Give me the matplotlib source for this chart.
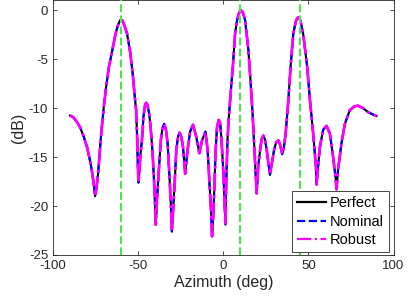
import matplotlib
matplotlib.use('Agg')
from matplotlib import pyplot as plt

# Beam pattern (azimuth in deg, response in dB)
azimuth = [-90, -88, -86, -84, -82, -80, -78, -77, -76, -75.3,
           -74.5, -73.5, -72.5, -71.5, -70.2, -68.8, -67.2, -65.2, -63.3, -62,
           -61, -60.5, -60, -59.5, -59, -58, -56.5, -54.6, -53.2, -52.0, -51.2, -50.6,
           -50.2, -49.8, -49.3, -48.7, -47.8, -46.9, -46, -45.3, -44.5, -43.6,
           -42.9, -42.1, -41.4, -40.4, -39.7, -39.0, -38.0, -36.7, -35.7, -34.7,
           -33.7, -32.7, -31.6, -30.8, -30.2, -29.5, -28.8, -27.6, -26.6, -25.7,
           -24.7, -23.7, -22.4, -21.0, -19.5, -17.8, -15.9, -14.1, -12.5, -10.5,
           -9.2, -8.1, -7.2, -6.6, -5.9, -5.3, -4.5, -3.7, -2.7, -1.8,
           -1.2, -0.3, 0.3, 0.8, 1.25, 1.7, 2.45, 3.2, 4.0, 4.8,
           5.6, 6.9, 8.0, 8.9, 9.7, 10.4, 11.1, 11.8, 12.8, 14.75, 16.1, 17.3,
           18.3, 19.0, 19.6, 20.5, 21.6, 22.5, 23.5, 24.5, 25.5, 27.4,
           29.8, 31.0, 32.3, 33.5, 34.6, 35.6, 36.6, 38.2, 39.5, 41.1,
           42.5, 43.3, 44.0, 44.8, 45.5, 46.9, 49.3, 50.9, 52.8, 54.4, 54.8, 55.5,
           56.7, 58.65, 60.6, 62.6, 64.5, 65.9, 66.5, 67.4, 69.4, 71.4,
           74.3, 77.2, 79.1, 82.1, 85.0, 87.9, 90]
perfect_db = [-10.75, -10.95, -11.4, -12.0, -12.9, -14.0, -15.6, -16.6, -17.9, -19.0,
              -18.2, -16.6, -14.3, -12.2, -9.9, -7.8, -5.8, -4.1, -2.4, -1.6,
              -1.15, -1.0, -0.95, -1.0, -1.15, -1.6, -2.4, -4.4, -6.5, -8.8, -10.2, -13.0,
              -15.8, -17.6, -16.5, -14.8, -13.3, -10.9, -9.7, -9.45, -9.7, -10.5,
              -11.6, -13.2, -15.0, -18.4, -21.9, -19.5, -16.7, -13.3, -12.0, -11.6,
              -12.2, -13.6, -17.0, -19.8, -22.6, -20.5, -18.4, -14.3, -12.9, -12.5,
              -12.9, -13.9, -16.7, -14.3, -12.4, -11.7, -12.9, -14.6, -13.3, -12.4,
              -14.3, -17.7, -20.5, -23.1, -21.0, -18.4, -14.3, -12.0, -11.2, -11.6,
              -12.9, -15.5, -17.6, -19.8, -21.9, -17.7, -13.3, -11.0, -9.2, -7.4,
              -5.8, -2.4, -1.1, -0.45, -0.1, 0.0, -0.12, -0.4, -1.0, -4.1, -7.5, -10.9,
              -14.3, -16.5, -18.7, -16.0, -14.3, -13.2, -12.8, -13.2, -14.3, -16.8,
              -14.3, -13.5, -13.3, -13.8, -14.7, -14.0, -12.6, -9.2, -5.8, -2.4,
              -1.2, -0.85, -0.72, -0.85, -1.2, -2.4, -5.8, -9.2, -12.6, -16.0, -17.8, -16.3,
              -14.0, -12.2, -11.8, -12.6, -15.0, -17.0, -18.3, -16.3, -13.6, -11.6,
              -10.2, -9.8, -9.75, -10.0, -10.4, -10.65, -10.8]
nominal_db = list(perfect_db)
robust_db = list(perfect_db)

# Look directions (dashed green markers)
look_dirs = [-60, 10, 45]

plt.rcParams['font.family'] = ['Liberation Sans', 'DejaVu Sans']
plt.rcParams['axes.unicode_minus'] = False
dark = '#262626'

fig = plt.figure(figsize=(4.08, 3.06), dpi=100)
ax = fig.add_axes([0.130, 0.1667, 0.8346, 0.8317])

ax.plot(azimuth, perfect_db, color='black', linestyle='-', linewidth=1.5, label='Perfect')
ax.plot(azimuth, nominal_db, color='blue', linestyle='--', linewidth=1.5, label='Nominal')
ax.plot(azimuth, robust_db, color='magenta', linestyle='-.', linewidth=2, label='Robust')

for d in look_dirs:
    ax.axvline(d, color='#4ce64c', linestyle='--', linewidth=1.5, zorder=5)

ax.set_xlim(-100, 100)
ax.set_ylim(-25, 1)
ax.set_xticks([-100, -50, 0, 50, 100])
ax.set_yticks([-25, -20, -15, -10, -5, 0])
ax.tick_params(direction='in', top=True, right=True, labelsize=9.5,
               colors=dark, length=3, width=0.6)
for s in ax.spines.values():
    s.set_color(dark)
    s.set_linewidth(0.6)

ax.set_xlabel('Azimuth (deg)', fontsize=11.5, color=dark, labelpad=2)
ax.set_ylabel('(dB)', fontsize=11.5, color=dark, labelpad=2)

leg = ax.legend(loc='lower right', bbox_to_anchor=(0.987, 0.0106), borderaxespad=0,
                fontsize=10.5, handlelength=2.0, handletextpad=0.25,
                labelspacing=0.3, borderpad=0.35, fancybox=False, framealpha=1)
leg.get_frame().set_edgecolor(dark)
leg.get_frame().set_linewidth(0.6)
for line in leg.get_lines():
    line.set_linewidth(1.6)

fig.savefig('out.png', dpi=100)
